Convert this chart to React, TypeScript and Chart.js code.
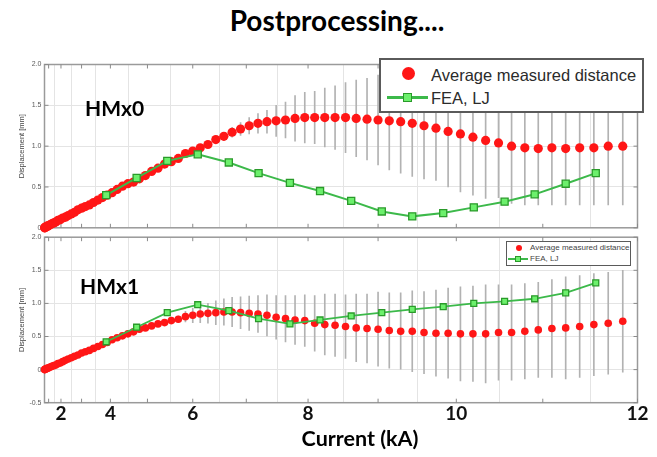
import React, { useEffect, useRef } from 'react';
import { Chart, registerables } from 'chart.js';

Chart.register(...registerables);

// Measured currents (kA)
const measuredCurrent = [
  0.15, 0.30, 0.45, 0.60, 0.75, 0.90, 1.05, 1.20, 1.35, 1.50,
  1.65, 1.80, 1.95, 2.10, 2.25, 2.40, 2.55, 2.70, 2.85, 3.00,
  3.15, 3.30, 3.45, 3.60, 3.75, 3.90, 4.05, 4.20, 4.35, 4.50,
  4.65, 4.80, 4.95, 5.10, 5.25, 5.40, 5.55, 5.70, 5.85, 6.00,
  6.15, 6.30, 6.45, 6.60, 6.75, 6.90, 7.05, 7.20, 7.35, 7.50,
  7.65, 7.80, 7.95, 8.10, 8.25, 8.40, 8.55, 8.70, 8.85, 9.00,
  9.15, 9.30, 9.45, 9.60, 9.75, 9.90, 10.05, 10.20, 10.35, 10.50,
  10.65, 10.80, 10.95, 11.10, 11.25, 11.40, 11.55, 11.70, 11.85,
];

// HMx0 average measured distance (mm) and spread (+/- mm)
const hmx0Measured = [
  0.00, 0.00, 0.01, 0.01, 0.02, 0.02, 0.03, 0.04, 0.05, 0.06,
  0.07, 0.09, 0.10, 0.12, 0.13, 0.15, 0.17, 0.19, 0.22, 0.24,
  0.26, 0.28, 0.31, 0.34, 0.37, 0.40, 0.43, 0.47, 0.51, 0.54,
  0.56, 0.60, 0.64, 0.69, 0.73, 0.78, 0.81, 0.85, 0.91, 0.94,
  0.98, 1.02, 1.08, 1.12, 1.17, 1.21, 1.25, 1.28, 1.30, 1.31,
  1.32, 1.34, 1.35, 1.35, 1.35, 1.35, 1.35, 1.34, 1.33, 1.32,
  1.31, 1.30, 1.28, 1.25, 1.22, 1.18, 1.15, 1.11, 1.07, 1.04,
  1.00, 0.98, 0.97, 0.98, 0.97, 0.98, 0.98, 1.00, 1.00,
];
const hmx0Spread = [
  0, 0, 0, 0, 0, 0, 0, 0, 0, 0,
  0, 0, 0, 0, 0, 0, 0, 0, 0, 0,
  0, 0, 0, 0, 0, 0, 0, 0, 0, 0,
  0, 0, 0, 0, 0, 0, 0.02, 0.02, 0.03, 0.03,
  0.03, 0.04, 0.04, 0.05, 0.06, 0.08, 0.10, 0.12, 0.14, 0.19,
  0.22, 0.28, 0.31, 0.32, 0.36, 0.39, 0.43, 0.47, 0.50, 0.55,
  0.60, 0.63, 0.65, 0.65, 0.64, 0.68, 0.71, 0.71, 0.71, 0.67,
  0.70, 0.70, 0.69, 0.70, 0.69, 0.70, 0.70, 0.72, 0.72,
];

// HMx1 average measured distance (mm) and spread (+/- mm)
const hmx1Measured = [
  0.00, 0.00, 0.01, 0.01, 0.02, 0.02, 0.03, 0.04, 0.05, 0.06,
  0.07, 0.09, 0.10, 0.12, 0.14, 0.16, 0.18, 0.20, 0.22, 0.25,
  0.27, 0.29, 0.32, 0.35, 0.38, 0.41, 0.45, 0.48, 0.51, 0.54,
  0.57, 0.61, 0.63, 0.66, 0.69, 0.71, 0.74, 0.76, 0.80, 0.82,
  0.84, 0.85, 0.86, 0.87, 0.87, 0.86, 0.85, 0.84, 0.82, 0.79,
  0.77, 0.75, 0.74, 0.70, 0.68, 0.67, 0.65, 0.63, 0.62, 0.61,
  0.59, 0.58, 0.58, 0.56, 0.55, 0.55, 0.54, 0.54, 0.54, 0.56,
  0.56, 0.58, 0.60, 0.62, 0.63, 0.65, 0.68, 0.70, 0.73,
];
const hmx1Spread = [
  0, 0, 0, 0, 0, 0, 0, 0, 0, 0,
  0, 0, 0, 0, 0, 0, 0, 0, 0, 0,
  0, 0, 0, 0, 0, 0, 0, 0, 0, 0,
  0, 0, 0, 0, 0, 0, 0.03, 0.05, 0.08, 0.11,
  0.13, 0.15, 0.18, 0.20, 0.22, 0.24, 0.26, 0.28, 0.31, 0.33,
  0.35, 0.37, 0.39, 0.42, 0.46, 0.47, 0.48, 0.51, 0.52, 0.56,
  0.57, 0.58, 0.61, 0.62, 0.65, 0.68, 0.71, 0.72, 0.74, 0.72,
  0.72, 0.72, 0.72, 0.74, 0.77, 0.77, 0.77, 0.77, 0.77,
];

// FEA, LJ
const feaCurrent = [3.87, 4.73, 5.46, 6.10, 6.69, 7.21, 7.72, 8.18, 8.63, 9.05, 9.45, 9.84, 10.21, 10.57, 10.91, 11.25, 11.57];
const hmx0Fea = [0.40, 0.61, 0.82, 0.90, 0.80, 0.67, 0.55, 0.45, 0.33, 0.20, 0.14, 0.18, 0.25, 0.32, 0.41, 0.54, 0.67];
const hmx1Fea = [0.42, 0.64, 0.86, 0.98, 0.89, 0.77, 0.69, 0.75, 0.81, 0.86, 0.91, 0.95, 1.00, 1.03, 1.07, 1.16, 1.31];

// Axis ticks (current, kA) — axis is spaced by current squared
const gridCurrents = [1, 2, 3, 4, 5, 6, 7, 8, 9, 10, 11, 12];
const labeledCurrents = [2, 4, 6, 8, 10, 12];
const seriesNames = ['Average measured distance', 'FEA, LJ'];

const RED = '#ff1616';
const GREEN = '#3cb94a';
const GREEN_FILL = '#6cf06c';
const GREEN_EDGE = '#2a9a2a';

const sq = (c: number) => c * c;

const axesFrame = {
  id: 'axesFrame',
  beforeDatasetsDraw(chart: any) {
    const { ctx, chartArea: a, scales } = chart;
    ctx.save();
    ctx.strokeStyle = '#9a9a9a';
    ctx.lineWidth = 1.5;
    ctx.strokeRect(a.left, a.top, a.right - a.left, a.bottom - a.top);
    ctx.strokeStyle = '#8a8a8a';
    ctx.lineWidth = 1;
    ctx.beginPath();
    scales.x.ticks.forEach((t: any) => {
      const px = scales.x.getPixelForValue(t.value);
      ctx.moveTo(px, a.bottom);
      ctx.lineTo(px, a.bottom - 4);
      ctx.moveTo(px, a.top);
      ctx.lineTo(px, a.top + 4);
    });
    scales.y.ticks.forEach((t: any) => {
      const py = scales.y.getPixelForValue(t.value);
      ctx.moveTo(a.left, py);
      ctx.lineTo(a.left + 4, py);
      ctx.moveTo(a.right, py);
      ctx.lineTo(a.right - 4, py);
    });
    ctx.stroke();
    ctx.restore();
  },
};

type PanelOpts = {
  measured: number[];
  spread: number[];
  fea: number[];
  yMin: number;
  yMax: number;
  dotRadius: number;
  markerRadius: number;
  lineWidth: number;
  showXLabels: boolean;
  padTop: number;
  xHeight: number;
};

function buildConfig(p: PanelOpts): any {
  const bars: any[] = [];
  measuredCurrent.forEach((c, i) => {
    if (p.spread[i] > 0) bars.push({ x: sq(c), y: [p.measured[i] - p.spread[i], p.measured[i] + p.spread[i]] });
  });
  return {
    type: 'line',
    data: {
      datasets: [
        {
          type: 'line',
          label: seriesNames[1],
          data: feaCurrent.map((c, i) => ({ x: sq(c), y: p.fea[i] })),
          borderColor: GREEN,
          borderWidth: p.lineWidth,
          pointStyle: 'rect',
          pointRadius: p.markerRadius,
          pointBackgroundColor: GREEN_FILL,
          pointBorderColor: GREEN_EDGE,
          pointBorderWidth: 1.3,
          fill: false,
          tension: 0,
          order: 0,
        },
        {
          type: 'line',
          label: seriesNames[0],
          data: measuredCurrent.map((c, i) => ({ x: sq(c), y: p.measured[i] })),
          showLine: false,
          pointRadius: p.dotRadius,
          pointBackgroundColor: RED,
          pointBorderWidth: 0,
          clip: false,
          order: 1,
        },
        {
          type: 'bar',
          label: 'spread',
          data: bars,
          backgroundColor: '#b2b2b2',
          barThickness: 1,
          order: 2,
        },
      ],
    },
    options: {
      responsive: false,
      animation: false,
      layout: { padding: { top: p.padTop, right: 19.5, left: 0, bottom: 0 } },
      plugins: { legend: { display: false }, tooltip: { enabled: false }, title: { display: false } },
      scales: {
        x: {
          type: 'linear',
          min: 0,
          max: 144,
          offset: false,
          afterBuildTicks: (s: any) => {
            s.ticks = gridCurrents.map((c) => ({ value: sq(c) }));
          },
          afterFit: (s: any) => {
            s.height = p.xHeight;
          },
          grid: { color: '#e4e4e4', drawTicks: false, lineWidth: 1 },
          border: { display: false },
          ticks: {
            display: p.showXLabels,
            autoSkip: false,
            maxRotation: 0,
            minRotation: 0,
            padding: 0,
            color: '#111',
            font: { family: 'Lato', weight: 'bold', size: 19 },
            callback: (v: number) => {
              const c = Math.round(Math.sqrt(v));
              return labeledCurrents.includes(c) ? String(c) : '';
            },
          },
        },
        y: {
          type: 'linear',
          min: p.yMin,
          max: p.yMax,
          afterFit: (s: any) => {
            s.width = 44.5;
          },
          grid: { color: '#e4e4e4', drawTicks: false, lineWidth: 1 },
          border: { display: false },
          ticks: {
            stepSize: 0.5,
            padding: 3,
            color: '#5a5a5a',
            font: { family: 'Liberation Sans', size: 7 },
          },
          title: {
            display: true,
            text: 'Displacement [mm]',
            color: '#444',
            font: { family: 'Liberation Sans', size: 7.5 },
            padding: { top: 17, bottom: 0 },
          },
        },
      },
    },
    plugins: [axesFrame],
  };
}

function Panel({ opts, top, height }: { opts: PanelOpts; top: number; height: number }) {
  const ref = useRef<HTMLCanvasElement>(null);
  useEffect(() => {
    const chart = new Chart(ref.current as HTMLCanvasElement, buildConfig(opts));
    return () => chart.destroy();
  }, []);
  return (
    <canvas
      ref={ref}
      width={657}
      height={height}
      style={{ position: 'absolute', left: 0, top, width: 657, height }}
    />
  );
}

const boldText: React.CSSProperties = {
  position: 'absolute',
  fontFamily: 'Lato, sans-serif',
  fontWeight: 700,
  color: '#000',
  whiteSpace: 'nowrap',
};

export default function App() {
  const upper: PanelOpts = {
    measured: hmx0Measured,
    spread: hmx0Spread,
    fea: hmx0Fea,
    yMin: 0,
    yMax: 2,
    dotRadius: 4.6,
    markerRadius: 5,
    lineWidth: 2,
    showXLabels: false,
    padTop: 14.5,
    xHeight: 5.5,
  };
  const lower: PanelOpts = {
    measured: hmx1Measured,
    spread: hmx1Spread,
    fea: hmx1Fea,
    yMin: -0.5,
    yMax: 2,
    dotRadius: 3.8,
    markerRadius: 4.2,
    lineWidth: 1.8,
    showXLabels: true,
    padTop: 4.5,
    xHeight: 54.3,
  };
  const lf = 'Liberation Sans, Arial, sans-serif';
  return (
    <div style={{ position: 'absolute', left: 0, top: 0, width: 657, height: 457, background: '#fff', overflow: 'hidden' }}>
      <div style={{ ...boldText, fontSize: 28, lineHeight: '28px', left: 337, top: 6, transform: 'translateX(-50%)' }}>
        Postprocessing....
      </div>
      <Panel opts={upper} top={50} height={185} />
      <Panel opts={lower} top={230} height={227} />
      <div style={{ ...boldText, fontSize: 21, lineHeight: '21px', left: 85, top: 97 }}>HMx0</div>
      <div style={{ ...boldText, fontSize: 21, lineHeight: '21px', left: 80, top: 275 }}>HMx1</div>
      <div style={{ ...boldText, fontSize: 21.5, lineHeight: '21px', left: 360, top: 428, transform: 'translateX(-50%)' }}>
        Current (kA)
      </div>

      {/* upper legend */}
      <div style={{ position: 'absolute', left: 379, top: 58, width: 265, height: 55, border: '2px solid #5a5a5a', boxSizing: 'border-box', background: '#fff' }}>
        <div style={{ position: 'absolute', left: 20.8, top: 7, width: 13, height: 13, borderRadius: '50%', background: RED }} />
        <div style={{ position: 'absolute', left: 50, top: 5, fontFamily: lf, fontSize: 16.5, lineHeight: '20px', color: '#2b2b2b', whiteSpace: 'nowrap' }}>{seriesNames[0]}</div>
        <div style={{ position: 'absolute', left: 6, top: 36.4, width: 41, height: 2.5, background: GREEN }} />
        <div style={{ position: 'absolute', left: 22.2, top: 33.2, width: 9, height: 9, boxSizing: 'border-box', border: `1.5px solid ${GREEN_EDGE}`, background: GREEN_FILL }} />
        <div style={{ position: 'absolute', left: 50, top: 28, fontFamily: lf, fontSize: 16.5, lineHeight: '20px', color: '#2b2b2b', whiteSpace: 'nowrap' }}>{seriesNames[1]}</div>
      </div>

      {/* lower legend */}
      <div style={{ position: 'absolute', left: 506, top: 241, width: 125, height: 25, border: '1px solid #5a5a5a', boxSizing: 'border-box', background: '#fff' }}>
        <div style={{ position: 'absolute', left: 8.75, top: 2.75, width: 6.5, height: 6.5, borderRadius: '50%', background: RED }} />
        <div style={{ position: 'absolute', left: 23, top: 1.3, fontFamily: lf, fontSize: 8, lineHeight: '10px', color: '#444', whiteSpace: 'nowrap' }}>{seriesNames[0]}</div>
        <div style={{ position: 'absolute', left: 1, top: 16.25, width: 20, height: 1.5, background: GREEN }} />
        <div style={{ position: 'absolute', left: 8.25, top: 14.25, width: 5.5, height: 5.5, boxSizing: 'border-box', border: `1px solid ${GREEN_EDGE}`, background: GREEN_FILL }} />
        <div style={{ position: 'absolute', left: 23, top: 12.3, fontFamily: lf, fontSize: 8, lineHeight: '10px', color: '#444', whiteSpace: 'nowrap' }}>{seriesNames[1]}</div>
      </div>
    </div>
  );
}
